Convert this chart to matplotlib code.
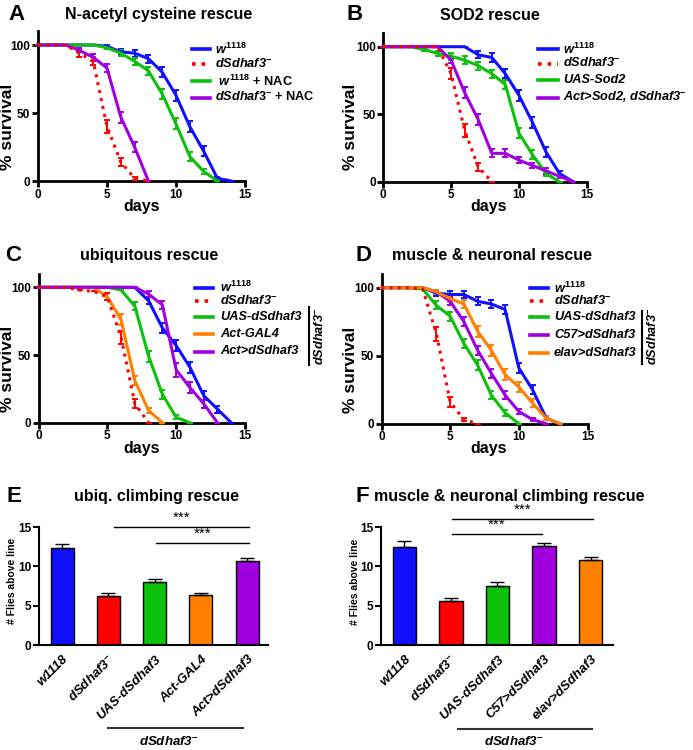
import numpy as np
import matplotlib
matplotlib.use("Agg")
import matplotlib.pyplot as plt
from matplotlib.lines import Line2D

plt.rcParams['font.family'] = ['Liberation Sans', 'DejaVu Sans']
plt.rcParams['font.weight'] = 'bold'
plt.rcParams['mathtext.fontset'] = 'custom'
plt.rcParams['mathtext.it'] = 'Liberation Sans:italic:bold'
plt.rcParams['mathtext.rm'] = 'Liberation Sans:bold'
plt.rcParams['mathtext.bf'] = 'Liberation Sans:bold'

W, H = 693, 750

BLUE = '#1010FF'
RED = '#FF0000'
GREEN = '#0CC00C'
ORANGE = '#FF8000'
PURPLE = '#A000E0'

# ---- survival data (% alive, day 0 onwards) ----
# A: N-acetyl cysteine rescue
a_w1118 = [100, 100, 100, 100, 100, 99, 95, 94, 90, 80, 63, 40, 22, 2, 0]
a_w1118_err = [0, 0, 0, 0, 0, 1, 2, 2.5, 3, 3.5, 4, 4, 3.5, 1, 0]
a_mut = [100, 100, 100, 94, 88, 40, 14, 2, 0]
a_mut_err = [0, 0, 0, 2.5, 3, 5, 3, 1, 0]
a_w1118_nac = [100, 100, 100, 100, 100, 98, 94, 88, 81, 64, 42, 18, 7, 0]
a_w1118_nac_err = [0, 0, 0, 0, 0, 1, 2, 2.5, 3, 3.5, 4, 3.5, 2, 0]
a_mut_nac = [100, 100, 100, 96, 91, 83, 47, 25, 0]
a_mut_nac_err = [0, 0, 0, 1.5, 2.5, 3, 4, 3.5, 0]

# B: SOD2 rescue
b_w1118 = [100, 100, 100, 100, 100, 100, 100, 94, 92, 80, 64, 44, 22, 6, 0]
b_w1118_err = [0, 0, 0, 0, 0, 0, 0, 2.5, 3, 3.5, 4, 4, 3.5, 2, 0]
b_mut = [100, 100, 100, 100, 100, 80, 38, 11, 0]
b_mut_err = [0, 0, 0, 0, 0, 4, 5, 3, 0]
b_uas = [100, 100, 100, 98, 95, 93, 90, 86, 80, 72, 36, 20, 6, 0]
b_uas_err = [0, 0, 0, 1, 2, 2.5, 3, 3, 3, 3.5, 4, 3.5, 2, 0]
b_rescue = [100, 100, 100, 100, 100, 90, 66, 46, 21, 21, 16, 12, 8, 4, 0]
b_rescue_err = [0, 0, 0, 0, 0, 2, 4, 4, 3, 3, 2, 2, 2, 1, 0]

# C: ubiquitous rescue
c_w1118 = [100, 100, 100, 100, 100, 100, 100, 100, 90, 70, 57, 41, 20, 10, 0]
c_w1118_err = [0, 0, 0, 0, 0, 0, 0, 0, 2.5, 3.5, 4, 4, 3.5, 2.5, 0]
c_mut = [100, 100, 100, 98, 97, 93, 63, 14, 0]
c_mut_err = [0, 0, 0, 0, 0, 2.5, 5, 3.5, 0]
c_uas = [100, 100, 100, 100, 100, 100, 98, 86, 49, 21, 4, 0]
c_uas_err = [0, 0, 0, 0, 0, 0, 0, 3, 4, 3.5, 1.5, 0]
c_gal4 = [100, 100, 100, 100, 100, 93, 76, 31, 9, 0]
c_gal4_err = [0, 0, 0, 0, 0, 2.5, 4, 3.5, 2, 0]
c_rescue = [100, 100, 100, 100, 100, 100, 100, 100, 95, 87, 39, 26, 14, 0]
c_rescue_err = [0, 0, 0, 0, 0, 0, 0, 0, 2, 3, 5, 4, 3, 0]

# D: muscle & neuronal rescue
d_w1118 = [100, 100, 100, 100, 96, 95, 95, 90, 88, 84, 41, 25, 4, 0]
d_w1118_err = [0, 0, 0, 0, 2, 2.5, 2.5, 3, 3, 3.5, 4, 3.5, 1.5, 0]
d_mut = [100, 100, 100, 99, 66, 16, 3, 0]
d_mut_err = [0, 0, 0, 0, 5, 3.5, 1, 0]
d_uas = [100, 100, 100, 99, 87, 79, 59, 43, 21, 8, 0]
d_uas_err = [0, 0, 0, 0, 3, 3.5, 3.5, 3.5, 3, 2, 0]
d_c57 = [100, 100, 100, 100, 97, 90, 75, 54, 37, 21, 9, 3, 0]
d_c57_err = [0, 0, 0, 0, 1.5, 3, 3.5, 3.5, 3.5, 3, 2, 1, 0]
d_elav = [100, 100, 100, 100, 97, 92, 88, 68, 54, 36, 27, 15, 4, 0]
d_elav_err = [0, 0, 0, 0, 1.5, 2.5, 3, 4, 4, 4, 3.5, 3, 1.5, 0]

# ---- climbing data ----
e_labels = ['w1118', 'dSdhaf3$^{-}$', 'UAS-dSdhaf3', 'Act-GAL4', 'Act>dSdhaf3']
e_means = [12.3, 6.2, 7.95, 6.3, 10.7]
e_sems = [0.5, 0.45, 0.42, 0.26, 0.42]
e_colors = [BLUE, RED, GREEN, ORANGE, PURPLE]

f_labels = ['w1118', 'dSdhaf3$^{-}$', 'UAS-dSdhaf3', 'C57>dSdhaf3', 'elav>dSdhaf3']
f_means = [12.5, 5.65, 7.55, 12.6, 10.75]
f_sems = [0.76, 0.38, 0.43, 0.42, 0.38]
f_colors = [BLUE, RED, GREEN, PURPLE, ORANGE]

W1118 = r'$\mathit{w}^{\mathit{1118}}$'
MUT = r'dSdhaf3$^{-}$'


def fx(px):
    return px / W


def fy(py):
    return 1 - py / H


def add_ax(fig, left, top, right, bottom):
    return fig.add_axes([fx(left), fy(bottom), (right - left) / W, (bottom - top) / H])


def ftext(fig, x, y, s, **kw):
    fig.text(fx(x), fy(y), s, **kw)


def fline(fig, x0, x1, y0, y1, **kw):
    fig.add_artist(Line2D([fx(x0), fx(x1)], [fy(y0), fy(y1)], transform=fig.transFigure, **kw))


def survival_axes(ax):
    for side in ['top', 'right']:
        ax.spines[side].set_visible(False)
    for side in ['left', 'bottom']:
        ax.spines[side].set_linewidth(2.0)
    ax.set_xlim(0, 15)
    ax.set_ylim(0, 110)
    ax.set_xticks([0, 5, 10, 15])
    ax.set_yticks([0, 50, 100])
    ax.tick_params(width=2, length=4, labelsize=8.5, pad=1.5)
    for lab in ax.get_xticklabels() + ax.get_yticklabels():
        lab.set_fontweight('bold')


def draw_curves(ax, curves):
    for vals, errs, color, ls in curves:
        days = np.arange(len(vals))
        ax.errorbar(days, vals, yerr=errs, color=color, ls=ls, lw=2.2,
                    elinewidth=1.4, capsize=2.5, capthick=1.4,
                    clip_on=False, zorder=3)


def legend(fig, x0, x1, xt, rows):
    for y, label, color, ls, style in rows:
        fline(fig, x0, x1, y, y, color=color, ls=ls, lw=2.6)
        ftext(fig, xt, y, label, ha='left', va='center', fontsize=9.2,
              fontweight='bold', fontstyle=style)


def bar_panel(ax, labels, means, sems, colors, xright):
    x = np.arange(len(means))
    ax.bar(x, means, width=0.5, color=colors, edgecolor='black', linewidth=1.0, zorder=2)
    ax.errorbar(x, means, yerr=[np.zeros(len(sems)), sems], fmt='none',
                ecolor='black', elinewidth=1.0, capsize=5, capthick=1.0, zorder=3)
    for side in ['top', 'right']:
        ax.spines[side].set_visible(False)
    for side in ['left', 'bottom']:
        ax.spines[side].set_linewidth(1.5)
    ax.set_xlim(-0.5, xright)
    ax.set_ylim(0, 15)
    ax.set_yticks([0, 5, 10, 15])
    ax.tick_params(axis='y', width=1.5, length=4, labelsize=8.5, pad=1.5)
    ax.tick_params(axis='x', length=0, pad=6)
    ax.set_xticks(x)
    ax.set_xticklabels(labels, rotation=45, ha='right', rotation_mode='anchor',
                       fontsize=9.5, fontstyle='italic', fontweight='bold')
    for lab in ax.get_yticklabels():
        lab.set_fontweight('bold')


def sig(ax, x0, x1, y, dy=0.25):
    ax.plot([x0, x1], [y, y], color='black', lw=1.0, clip_on=False)
    ax.text((x0 + x1) / 2, y + dy, '***', ha='center', va='bottom', fontsize=11,
            fontweight='normal')


fig = plt.figure(figsize=(W / 100, H / 100), dpi=100)

# ---------- A ----------
axA = add_ax(fig, 38, 31.4, 245, 181)
survival_axes(axA)
draw_curves(axA, [
    (a_w1118, a_w1118_err, BLUE, '-'),
    (a_w1118_nac, a_w1118_nac_err, GREEN, '-'),
    (a_mut_nac, a_mut_nac_err, PURPLE, '-'),
    (a_mut, a_mut_err, RED, ':'),
])
legend(fig, 192, 210, 215, [
    (49, W1118, BLUE, '-', 'italic'),
    (64, MUT, RED, ':', 'italic'),
    (81, ' ' + W1118 + ' + NAC', GREEN, '-', 'normal'),
    (97.5, r'$\mathit{dSdhaf3}^{-}$ + NAC', PURPLE, '-', 'normal'),
])

# ---------- B ----------
axB = add_ax(fig, 383.3, 33.2, 586.7, 181.7)
survival_axes(axB)
draw_curves(axB, [
    (b_w1118, b_w1118_err, BLUE, '-'),
    (b_uas, b_uas_err, GREEN, '-'),
    (b_rescue, b_rescue_err, PURPLE, '-'),
    (b_mut, b_mut_err, RED, ':'),
])
legend(fig, 538, 558, 563, [
    (49, W1118, BLUE, '-', 'italic'),
    (63.5, MUT, RED, ':', 'italic'),
    (80, 'UAS-Sod2', GREEN, '-', 'italic'),
    (97.5, 'Act>Sod2, ' + MUT, PURPLE, '-', 'italic'),
])

# ---------- C ----------
axC = add_ax(fig, 38.5, 273.8, 245, 422.7)
survival_axes(axC)
draw_curves(axC, [
    (c_w1118, c_w1118_err, BLUE, '-'),
    (c_uas, c_uas_err, GREEN, '-'),
    (c_gal4, c_gal4_err, ORANGE, '-'),
    (c_rescue, c_rescue_err, PURPLE, '-'),
    (c_mut, c_mut_err, RED, ':'),
])
legend(fig, 195, 213, 220, [
    (287.5, W1118, BLUE, '-', 'italic'),
    (301, MUT, RED, ':', 'italic'),
    (317, 'UAS-dSdhaf3', GREEN, '-', 'italic'),
    (334, 'Act-GAL4', ORANGE, '-', 'italic'),
    (351.5, 'Act>dSdhaf3', PURPLE, '-', 'italic'),
])
fline(fig, 309, 309, 307, 365, color='black', lw=1.5)
ftext(fig, 320, 336, MUT, rotation=90, ha='center', va='center', fontsize=9.2,
      fontstyle='italic', fontweight='bold')

# ---------- D ----------
axD = add_ax(fig, 381.5, 274.1, 587.5, 423.7)
survival_axes(axD)
draw_curves(axD, [
    (d_w1118, d_w1118_err, BLUE, '-'),
    (d_uas, d_uas_err, GREEN, '-'),
    (d_c57, d_c57_err, PURPLE, '-'),
    (d_elav, d_elav_err, ORANGE, '-'),
    (d_mut, d_mut_err, RED, ':'),
])
legend(fig, 530, 548, 554, [
    (288, W1118, BLUE, '-', 'italic'),
    (301, MUT, RED, ':', 'italic'),
    (317, 'UAS-dSdhaf3', GREEN, '-', 'italic'),
    (335, 'C57>dSdhaf3', PURPLE, '-', 'italic'),
    (353, 'elav>dSdhaf3', ORANGE, '-', 'italic'),
])
fline(fig, 642, 642, 311, 364, color='black', lw=1.5)
ftext(fig, 653, 336, MUT, rotation=90, ha='center', va='center', fontsize=9.2,
      fontstyle='italic', fontweight='bold')

# axis labels for survival panels
for cx, cy in [(141.5, 207), (489, 207), (141.5, 449), (489, 449)]:
    ftext(fig, cx, cy, 'days', ha='center', va='center', fontsize=11.5, fontweight='bold')
for cx, cy in [(8, 127), (351, 127), (8, 369), (351, 370)]:
    ftext(fig, cx, cy, '% survival', ha='center', va='center', rotation=90,
          fontsize=12.5, fontweight='bold')

# ---------- E ----------
axE = add_ax(fig, 39, 527, 268, 645)
bar_panel(axE, e_labels, e_means, e_sems, e_colors, 4.45)
sig(axE, 1.12, 4.04, 15.0)
sig(axE, 2.03, 4.04, 13.0)
ftext(fig, 12, 581, '# Flies above line', rotation=90, ha='center', va='center',
      fontsize=7.5, fontweight='bold')
fline(fig, 108, 243, 728, 728, color='#333333', lw=1.5)
ftext(fig, 169, 742, MUT, ha='center', va='center', fontsize=9.5,
      fontstyle='italic', fontweight='bold')

# ---------- F ----------
axF = add_ax(fig, 381, 527, 613, 645)
bar_panel(axF, f_labels, f_means, f_sems, f_colors, 4.48)
sig(axF, 1.02, 4.04, 16.0)
sig(axF, 1.02, 2.96, 14.1)
ftext(fig, 355, 582, '# Flies above line', rotation=90, ha='center', va='center',
      fontsize=7.5, fontweight='bold')
fline(fig, 458, 592, 729, 729, color='#333333', lw=1.5)
ftext(fig, 514, 742, MUT, ha='center', va='center', fontsize=9.5,
      fontstyle='italic', fontweight='bold')

# ---------- titles and panel letters ----------
titles = [
    ('A', 8, 15, 'N-acetyl cysteine rescue', 159, 15),
    ('B', 346, 15, 'SOD2 rescue', 490, 15),
    ('C', 5, 255, 'ubiquitous rescue', 149.5, 255),
    ('D', 355, 255, 'muscle & neuronal rescue', 492, 255),
    ('E', 7, 497, 'ubiq. climbing rescue', 157, 497),
    ('F', 355, 497, 'muscle & neuronal climbing rescue', 509.5, 497),
]
for letter, lx, ly, title, tx, ty in titles:
    ftext(fig, lx, ly, letter, ha='left', va='center', fontsize=16, fontweight='bold')
    ftext(fig, tx, ty, title, ha='center', va='center', fontsize=11.5, fontweight='bold')

fig.savefig('out.png', dpi=100)
